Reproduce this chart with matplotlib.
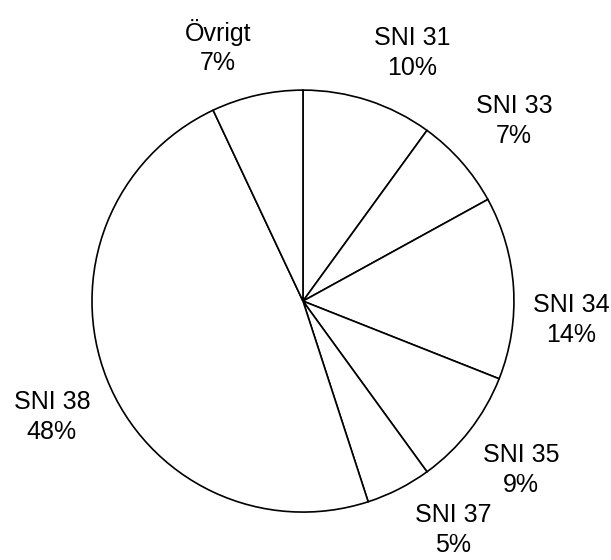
import matplotlib.pyplot as plt

labels = ["SNI 31", "SNI 33", "SNI 34", "SNI 35", "SNI 37", "SNI 38", "Övrigt"]
shares = [10, 7, 14, 9, 5, 48, 7]

# where each label sits, in units of the pie radius
label_x = [0.517, 1.0, 1.27, 1.033, 0.711, -1.19, -0.403]
label_y = [1.175, 0.853, -0.09, -0.80, -1.085, -0.55, 1.204]

plt.rcParams["font.family"] = ["Liberation Sans", "DejaVu Sans"]

fig = plt.figure(figsize=(6.11, 5.60), dpi=100)
ax = fig.add_axes([0, 0, 1, 1])

ax.pie(shares, startangle=90, counterclock=False,
       colors=["white"] * len(shares),
       wedgeprops=dict(edgecolor="black", linewidth=1.2))

for lab, s, x, y in zip(labels, shares, label_x, label_y):
    ax.text(x, y, f"{lab}\n{s}%", ha="center", va="center",
            fontsize=18, linespacing=1.3)

ax.set_xlim(-1.436, 1.460)
ax.set_ylim(-1.227, 1.427)
ax.set_aspect("equal")
ax.axis("off")

fig.savefig("out.png", dpi=100)
